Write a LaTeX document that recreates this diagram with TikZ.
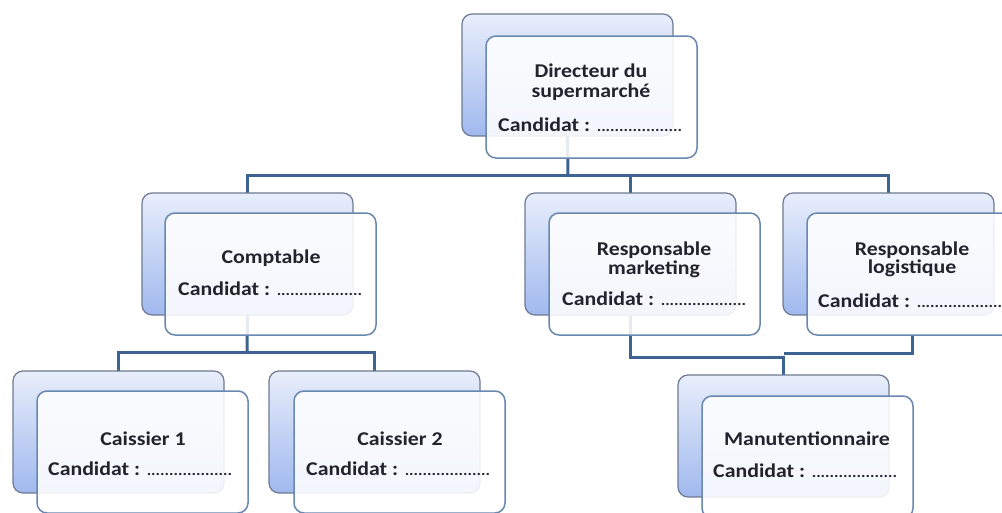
\documentclass[tikz,border=0pt]{standalone}
\usepackage{fontspec}
\setmainfont[FakeStretch=1.12]{Carlito}
\usetikzlibrary{backgrounds}
\definecolor{linec}{RGB}{62,98,146}
\definecolor{backtop}{RGB}{232,238,251}
\definecolor{backbot}{RGB}{160,185,238}
\definecolor{backborder}{RGB}{110,122,145}
\definecolor{frontborder}{RGB}{105,135,175}
\definecolor{textc}{RGB}{35,35,45}
\newcommand{\canddots}{Candidat : {\fontsize{15}{15}\selectfont ...................}}
\begin{document}
\begin{tikzpicture}[x=1pt,y=-1pt,
 backbox/.style={draw=backborder, line width=1.2pt, rounded corners=10pt, top color=backtop, bottom color=backbot, minimum width=211pt, minimum height=122pt, anchor=north west, inner sep=0pt, outer sep=0pt},
 frontbox/.style={draw=frontborder, line width=1.5pt, rounded corners=10pt, fill=white, fill opacity=0.88, minimum width=211pt, minimum height=122pt, anchor=north west, inner sep=0pt, outer sep=0pt},
 conn/.style={draw=linec, line width=3pt},
 ttl/.style={anchor=base, font=\fontsize{19.5}{19.5}\selectfont\bfseries, text=textc, inner sep=0pt},
 cand/.style={anchor=base west, font=\fontsize{19.5}{19.5}\selectfont\bfseries, text=textc, inner sep=0pt}]
\useasboundingbox (0,0) rectangle (1002,512);
\clip (0,0) rectangle (1002,512);
% boxes
\node[backbox] (dir) at (462,14) {};
\node[frontbox] (dirf) at (486,36) {};
\node[backbox] (comp) at (142,193) {};
\node[frontbox] (compf) at (165,213) {};
\node[backbox] (mkt) at (525,193) {};
\node[frontbox] (mktf) at (549,213) {};
\node[backbox] (log) at (783,193) {};
\node[frontbox] (logf) at (807,213) {};
\node[backbox] (cai1) at (13,371) {};
\node[frontbox] (cai1f) at (37,391) {};
\node[backbox] (cai2) at (269,371) {};
\node[frontbox] (cai2f) at (294,391) {};
\node[backbox] (man) at (678,375) {};
\node[frontbox] (manf) at (702,396) {};
% texts
\node[ttl] (t1a) at (591,77) {Directeur du};
\node[ttl] (t1b) at (591,97) {supermarché};
\node[cand] (c1) at (498,131) {\canddots};
\node[ttl] (t2) at (271,263) {Comptable};
\node[cand] (c2) at (178,295) {\canddots};
\node[ttl] (t3a) at (654,255) {Responsable};
\node[ttl] (t3b) at (654,274) {marketing};
\node[cand] (c3) at (562,305) {\canddots};
\node[ttl] (t4a) at (912,255) {Responsable};
\node[ttl] (t4b) at (912,273) {logistique};
\node[cand] (c4) at (818,307) {\canddots};
\node[ttl] (t5) at (143,445) {Caissier 1};
\node[cand] (c5) at (48,475) {\canddots};
\node[ttl] (t6) at (400,445) {Caissier 2};
\node[cand] (c6) at (306,475) {\canddots};
\node[ttl] (t7) at (807,445) {Manutentionnaire};
\node[cand] (c7) at (713,477) {\canddots};
% connectors
\begin{pgfonlayer}{background}
\coordinate (b1) at (568,175);
\coordinate (b2) at (247,352);
\coordinate (b3) at (783.5,357);
\coordinate (b4) at (783.5,353);
\draw[conn] (dir.south) -- (b1);
\draw[conn] (comp.north) |- (b1) -| (log.north);
\draw[conn] (mkt.north) -- (mkt.north |- b1);
\draw[conn] (comp.south) -- (b2);
\draw[conn] (cai1.north) |- (b2) -| (cai2.north);
\draw[conn] (mkt.south) |- (b3) -- (man.north);
\draw[conn] (logf.south) |- (b4);
\end{pgfonlayer}
\end{tikzpicture}
\end{document}
